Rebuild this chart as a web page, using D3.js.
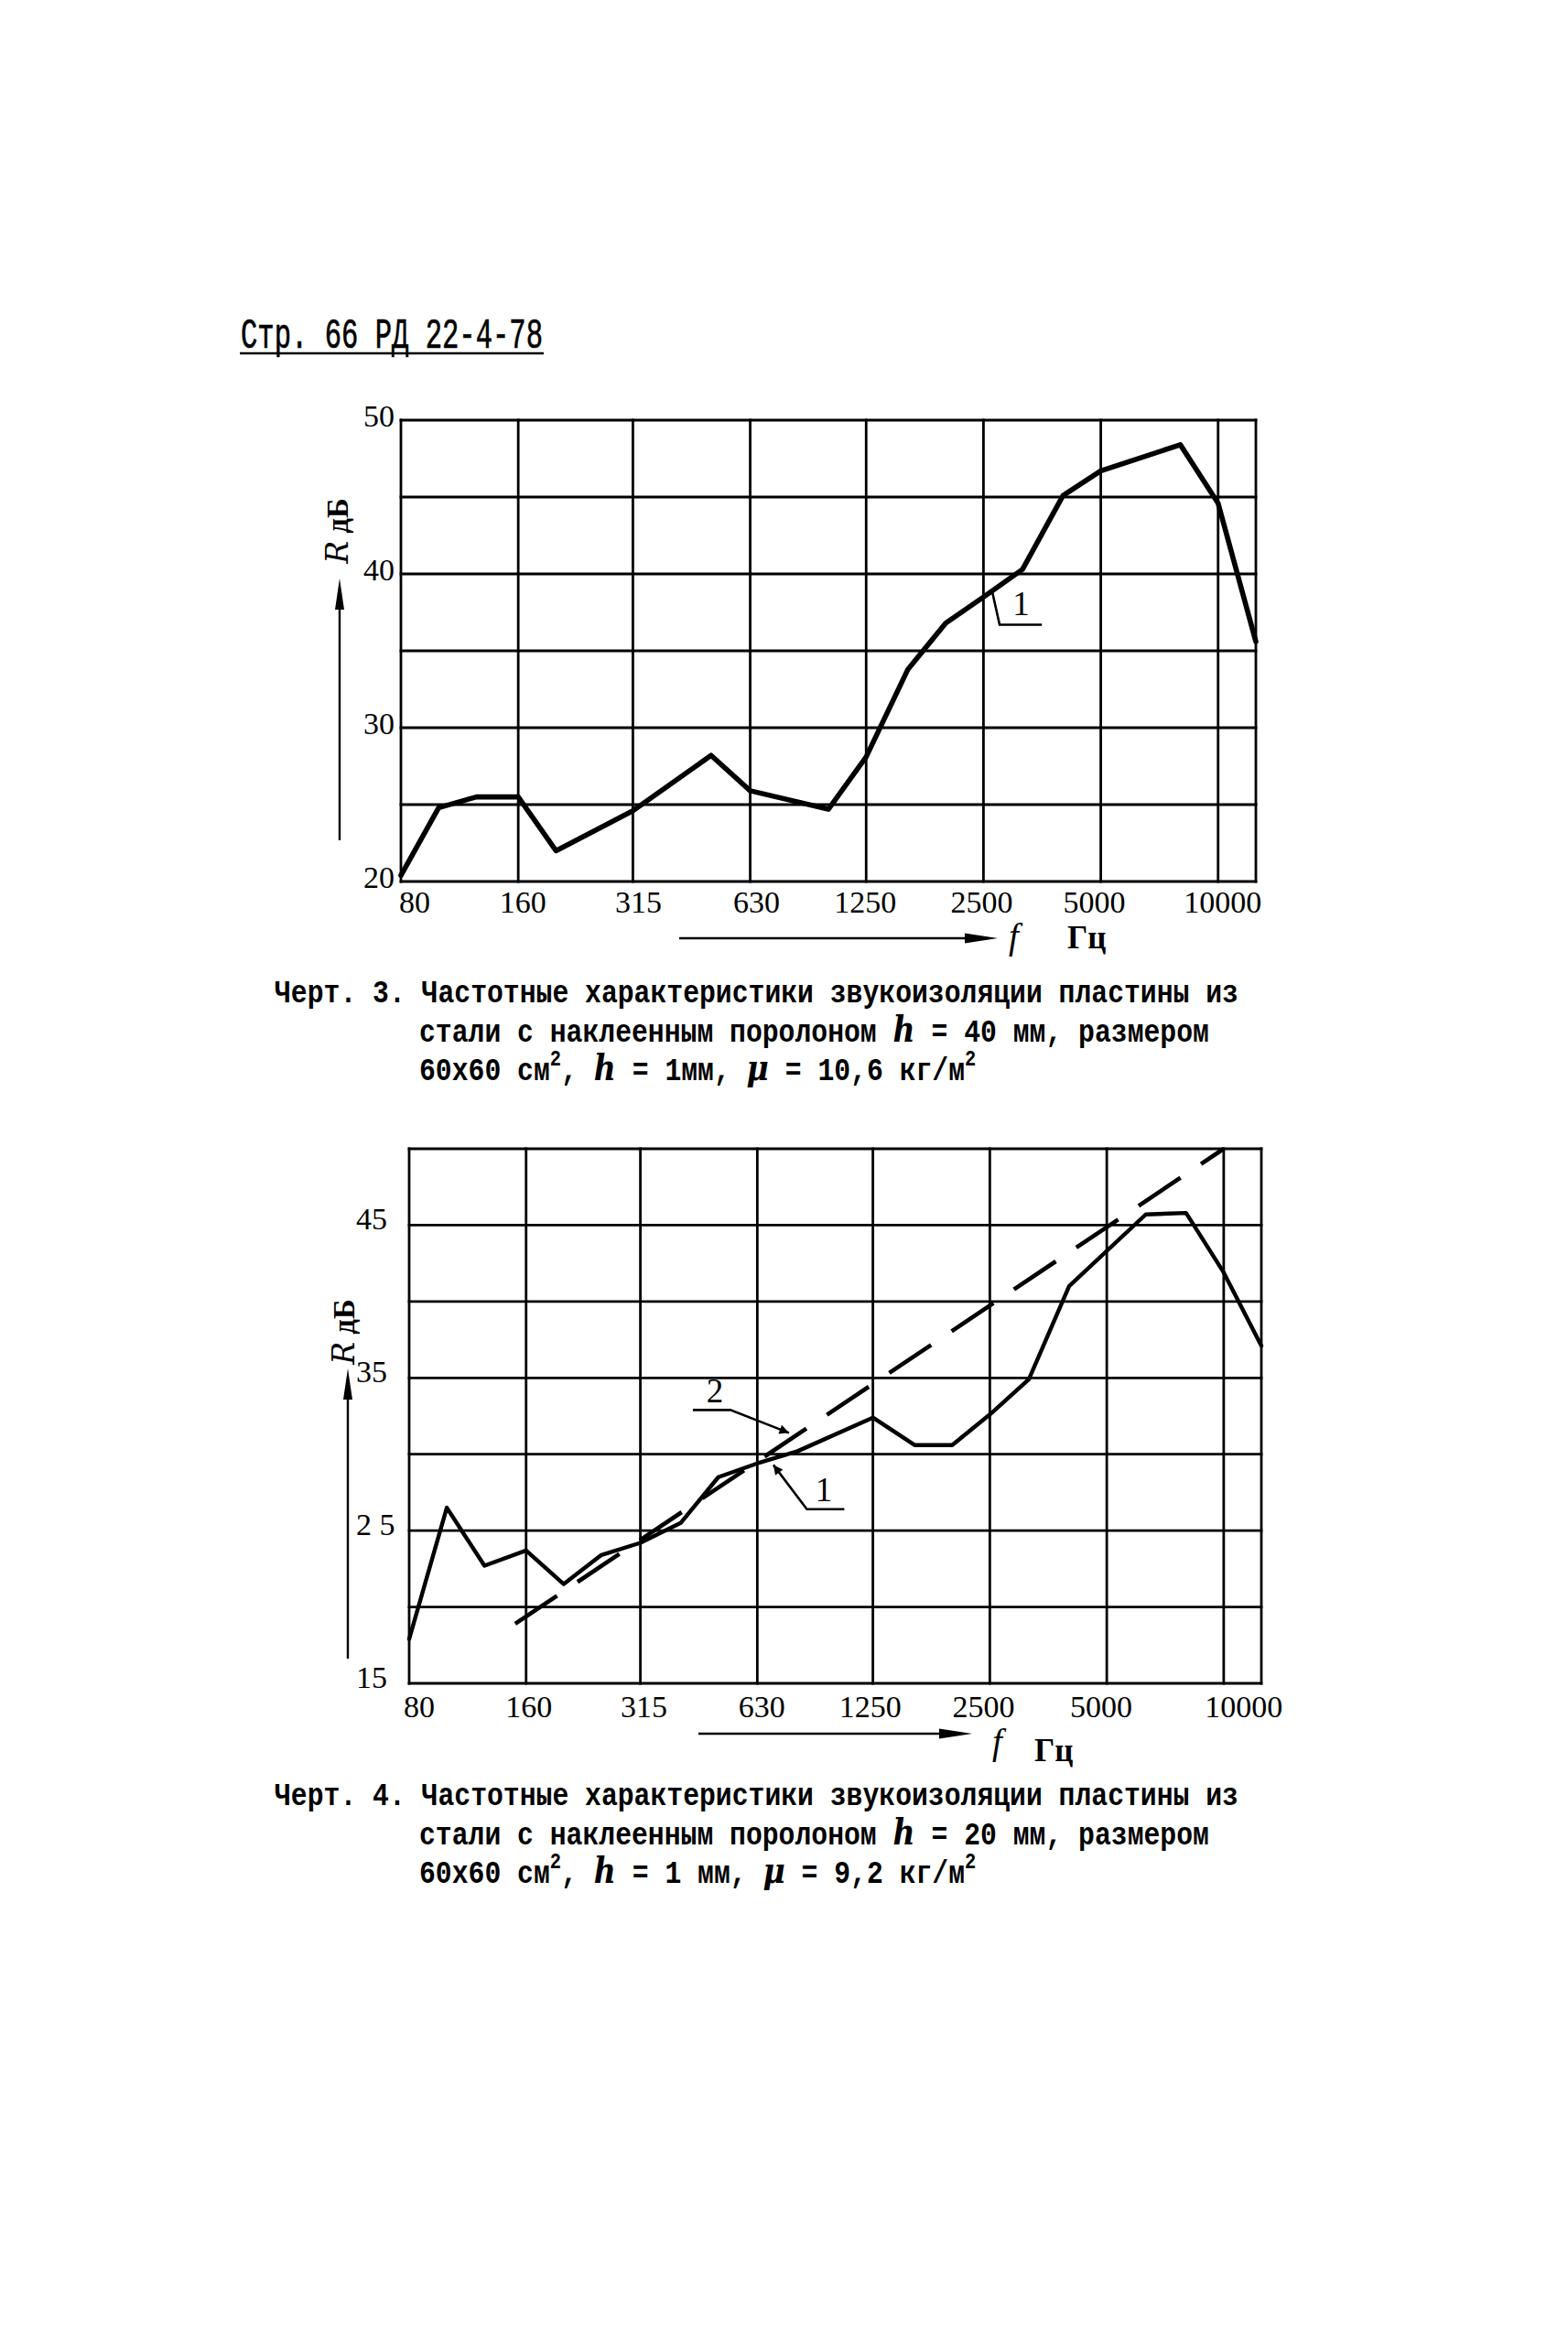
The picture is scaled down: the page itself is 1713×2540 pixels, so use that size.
<!DOCTYPE html>
<html><head><meta charset="utf-8">
<script src="https://cdn.jsdelivr.net/npm/d3@7"></script>
<style>html,body{margin:0;padding:0;background:#fff;} svg{display:block;}</style>
</head><body>
<script>
// ---------------- data ----------------
const headerText = "Стр. 66 РД 22-4-78";
const freqTicks = [80, 160, 315, 630, 1250, 2500, 5000, 10000];
const freqTickLabels = ["80", "160", "315", "630", "1250", "2500", "5000", "10000"];
const freqDomain = [80, 12500];

// Chart 3 (upper)
const chart1Freq = [80, 100, 125, 160, 200, 315, 500, 630, 1000, 1250, 1600, 2000, 2500, 3150, 4000, 5000, 8000, 10000, 12500];
const chart1R    = [20.4, 24.8, 25.5, 25.5, 22.0, 24.6, 28.2, 25.9, 24.7, 28.1, 33.8, 36.8, 38.5, 40.3, 45.1, 46.7, 48.4, 44.6, 35.6];
const chart1YTicks  = [20, 30, 40, 50];
const chart1YLabels = ["20", "30", "40", "50"];
const chart1Grid    = [20, 25, 30, 35, 40, 45, 50];
const chart1Label1  = "1";
const chart1Leader1 = [[2630, 38.9], [2750, 36.7], [3530, 36.7]];
const chart1Label1Pos = [3120, 37.3];

// Chart 4 (lower)
const chart2Freq1 = [80, 100, 125, 160, 200, 250, 315, 400, 500, 630, 800, 1250, 1600, 2000, 2500, 3150, 4000, 6300, 8000, 10000, 12500];
const chart2R1    = [17.9, 26.5, 22.7, 23.7, 21.5, 23.4, 24.2, 25.5, 28.5, 29.4, 30.2, 32.4, 30.6, 30.6, 32.6, 34.9, 41.0, 45.7, 45.8, 41.9, 37.1];
const chart2Freq2 = [150, 10000];
const chart2R2    = [18.9, 50];
const chart2YTicks  = [15, 25, 35, 45];
const chart2YLabels = ["15", "2 5", "35", "45"];
const chart2Grid    = [15, 20, 25, 30, 35, 40, 45, 50];
const chart2Label1  = "1";
const chart2Leader1 = [[693, 29.3], [845, 26.4], [1055, 26.4]];
const chart2Label1Pos = [934, 26.9];
const chart2Label2  = "2";
const chart2Leader2 = [[430, 32.9], [537, 32.9], [760, 31.4]];
const chart2Label2Pos = [490, 33.4];

const yAxisTitle = ["R", " дБ"];
const xAxisTitle = ["f", "Гц"];

const caption1 = [
  [{t: "Черт. 3. Частотные характеристики звукоизоляции пластины из"}],
  [{t: "стали с наклеенным поролоном "}, {t: "h", hand: true}, {t: " = 40 мм, размером"}],
  [{t: "60х60 см"}, {t: "2", sup: true}, {t: ", "}, {t: "h", hand: true}, {t: " = 1мм, "}, {t: "μ", hand: true}, {t: " = 10,6 кг/м"}, {t: "2", sup: true}]
];
const caption2 = [
  [{t: "Черт. 4. Частотные характеристики звукоизоляции пластины из"}],
  [{t: "стали с наклеенным поролоном "}, {t: "h", hand: true}, {t: " = 20 мм, размером"}],
  [{t: "60х60 см"}, {t: "2", sup: true}, {t: ", "}, {t: "h", hand: true}, {t: " = 1 мм, "}, {t: "μ", hand: true}, {t: " = 9,2 кг/м"}, {t: "2", sup: true}]
];

// ---------------- drawing ----------------
const W = 1713, H = 2540;
const INK = "#000";
const SERIF = "'Liberation Serif', 'Times New Roman', serif";
const MONO = "'Liberation Mono', 'Courier New', monospace";

const svg = d3.select("body").append("svg")
  .attr("width", W).attr("height", H).attr("viewBox", `0 0 ${W} ${H}`);
svg.append("rect").attr("width", W).attr("height", H).attr("fill", "#fff");

const defs = svg.append("defs");
defs.append("marker").attr("id", "lead").attr("viewBox", "0 0 10 10")
  .attr("refX", 10).attr("refY", 5).attr("markerWidth", 5.5).attr("markerHeight", 4)
  .attr("markerUnits", "strokeWidth").attr("orient", "auto-start-reverse")
  .append("path").attr("d", "M0,0 L10,5 L0,10 Z").attr("fill", INK);

// header
svg.append("text").attr("x", 263).attr("y", 380)
  .attr("font-family", MONO).attr("font-size", 46)
  .attr("textLength", 330).attr("lengthAdjust", "spacingAndGlyphs")
  .attr("fill", INK).attr("stroke", INK).attr("stroke-width", 0.7).text(headerText);
svg.append("line").attr("x1", 262).attr("x2", 594).attr("y1", 386).attr("y2", 386)
  .attr("stroke", INK).attr("stroke-width", 2.6);

function drawChart(cfg) {
  const g = svg.append("g");
  const x = d3.scaleLog().domain(freqDomain).range([cfg.left, cfg.right]);
  const y = d3.scaleLinear().domain(cfg.yDomain).range([cfg.bottom, cfg.top]);

  // grid
  g.selectAll("line.hg").data(cfg.grid).join("line").attr("class", "hg")
    .attr("x1", cfg.left - 1.4).attr("x2", cfg.right + 1.4)
    .attr("y1", d => y(d)).attr("y2", d => y(d))
    .attr("stroke", INK).attr("stroke-width", 2.8);
  g.selectAll("line.vg").data([...freqTicks, freqDomain[1]]).join("line").attr("class", "vg")
    .attr("x1", d => x(d)).attr("x2", d => x(d))
    .attr("y1", cfg.top - 1.4).attr("y2", cfg.bottom + 1.4)
    .attr("stroke", INK).attr("stroke-width", 2.8);

  // x tick labels
  g.selectAll("text.xl").data(freqTicks).join("text").attr("class", "xl")
    .attr("x", (d, i) => x(d) + cfg.xLabelDx[i])
    .attr("y", cfg.bottom + cfg.xLabelDy)
    .attr("text-anchor", "middle")
    .attr("font-family", SERIF).attr("font-size", 34).attr("fill", INK)
    .text((d, i) => freqTickLabels[i]);

  // y tick labels
  g.selectAll("text.yl").data(cfg.yTicks).join("text").attr("class", "yl")
    .attr("x", cfg.yLabelX)
    .attr("y", d => y(d) + cfg.yLabelDy)
    .attr("text-anchor", cfg.yLabelAnchor)
    .attr("font-family", SERIF).attr("font-size", 34).attr("fill", INK)
    .text((d, i) => cfg.yLabels[i]);

  const line = d3.line().x(d => x(d[0])).y(d => y(d[1]));

  // series
  cfg.series.forEach(s => {
    g.append("path").datum(d3.zip(s.f, s.r)).attr("d", line)
      .attr("fill", "none").attr("stroke", INK).attr("stroke-width", s.width)
      .attr("stroke-linejoin", "round").attr("stroke-linecap", s.dash ? "butt" : "round")
      .attr("stroke-dasharray", s.dash || null);
  });

  // leaders + labels
  cfg.notes.forEach(n => {
    const p = g.append("path").datum(n.leader).attr("d", line)
      .attr("fill", "none").attr("stroke", INK).attr("stroke-width", 2.6)
      .attr("stroke-linejoin", "miter");
    if (n.arrowEnd) p.attr("marker-end", "url(#lead)");
    if (n.arrowStart) p.attr("marker-start", "url(#lead)");
    g.append("text").attr("x", x(n.pos[0])).attr("y", y(n.pos[1]))
      .attr("text-anchor", "middle").attr("font-family", SERIF)
      .attr("font-size", 37).attr("fill", INK).text(n.label);
  });

  // y arrow
  const ya = cfg.yArrow;
  g.append("line").attr("x1", ya.x).attr("x2", ya.x).attr("y1", ya.y0).attr("y2", ya.y1 + 20)
    .attr("stroke", INK).attr("stroke-width", 2.4);
  g.append("path").attr("d", `M${ya.x},${ya.y1} L${ya.x - 5},${ya.y1 + 34} L${ya.x + 5},${ya.y1 + 34} Z`).attr("fill", INK);
  const yt = g.append("text").attr("transform", `translate(${cfg.yTitle[0]},${cfg.yTitle[1]}) rotate(-90)`)
    .attr("text-anchor", "middle").attr("font-size", 33).attr("fill", INK).style("white-space", "pre");
  yt.append("tspan").attr("font-family", "'DejaVu Serif', serif").attr("font-style", "italic").text(yAxisTitle[0]);
  yt.append("tspan").attr("font-family", SERIF).attr("font-weight", "bold").text(yAxisTitle[1]);

  // x arrow
  const xa = cfg.xArrow;
  g.append("line").attr("x1", xa.x0).attr("x2", xa.x1 - 20).attr("y1", xa.y).attr("y2", xa.y)
    .attr("stroke", INK).attr("stroke-width", 2.4);
  g.append("path").attr("d", `M${xa.x1},${xa.y} L${xa.x1 - 36},${xa.y - 5.5} L${xa.x1 - 36},${xa.y + 5.5} Z`).attr("fill", INK);
  g.append("text").attr("x", cfg.fPos[0]).attr("y", cfg.fPos[1])
    .attr("font-family", SERIF).attr("font-style", "italic").attr("font-size", 39).attr("fill", INK).text(xAxisTitle[0]);
  g.append("text").attr("x", cfg.hzPos[0]).attr("y", cfg.hzPos[1])
    .attr("font-family", SERIF).attr("font-weight", "bold").attr("font-size", 35).attr("fill", INK).text(xAxisTitle[1]);
}

drawChart({
  left: 438, right: 1372, top: 459, bottom: 963, yDomain: [20, 50],
  grid: chart1Grid, yTicks: chart1YTicks, yLabels: chart1YLabels,
  xLabelDx: [15, 5, 6, 7, -1, -2, -7, 5], xLabelDy: 34,
  yLabelX: 431, yLabelAnchor: "end", yLabelDy: 7,
  series: [{f: chart1Freq, r: chart1R, width: 5.6}],
  notes: [{leader: chart1Leader1, pos: chart1Label1Pos, label: chart1Label1}],
  yArrow: {x: 371, y0: 918, y1: 632},
  yTitle: [380, 580],
  xArrow: {x0: 742, x1: 1090, y: 1025},
  fPos: [1102, 1036], hzPos: [1166, 1036]
});

drawChart({
  left: 447, right: 1378, top: 1255, bottom: 1839, yDomain: [15, 50],
  grid: chart2Grid, yTicks: chart2YTicks, yLabels: chart2YLabels,
  xLabelDx: [11, 3, 4, 5, -3, -7, -6, 22], xLabelDy: 37,
  yLabelX: 389, yLabelAnchor: "start", yLabelDy: 5,
  series: [{f: chart2Freq1, r: chart2R1, width: 4.4},
           {f: chart2Freq2, r: chart2R2, width: 4.6, dash: "55,27"}],
  notes: [{leader: chart2Leader1, pos: chart2Label1Pos, label: chart2Label1, arrowStart: true},
          {leader: chart2Leader2, pos: chart2Label2Pos, label: chart2Label2, arrowEnd: true}],
  yArrow: {x: 380, y0: 1812, y1: 1495},
  yTitle: [387, 1455],
  xArrow: {x0: 763, x1: 1062, y: 1894},
  fPos: [1084, 1916], hzPos: [1130, 1924]
});

// captions
function caption(lines, x0, x1, y0, dy) {
  lines.forEach((segs, i) => {
    const xs = i === 0 ? x0 : x1;
    const t = svg.append("text")
      .attr("transform", `translate(${xs},${y0 + i * dy}) scale(0.85,1)`)
      .attr("font-family", MONO).attr("font-weight", "bold").attr("font-size", 35)
      .attr("fill", INK).style("white-space", "pre");
    let shift = 0;
    segs.forEach(s => {
      const ts = t.append("tspan").text(s.t);
      if (s.hand) ts.attr("font-family", "'DejaVu Serif', serif").attr("font-style", "italic")
        .attr("font-weight", "bold").attr("font-size", 39);
      if (s.sup) { ts.attr("font-size", 24).attr("dy", -16); shift = 16; }
      else if (shift) { ts.attr("dy", shift); shift = 0; }
    });
  });
}
caption(caption1, 300, 458, 1095, 42.5);
caption(caption2, 300, 458, 1972, 42.5);
</script>
</body></html>
